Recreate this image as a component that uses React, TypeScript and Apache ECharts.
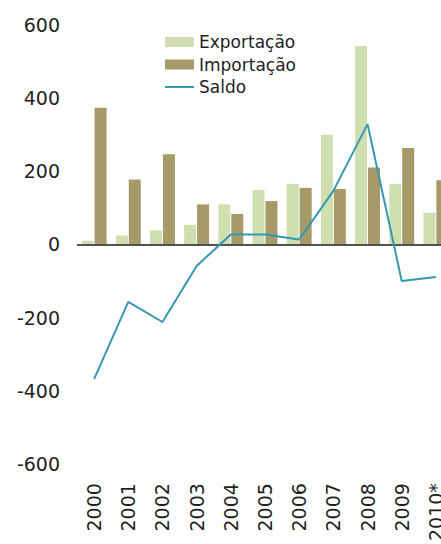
import React, { useEffect, useRef } from "react";
import * as echarts from "echarts";

const categories = ["2000", "2001", "2002", "2003", "2004", "2005", "2006", "2007", "2008", "2009", "2010*"];
const exportacao = [10, 24, 38, 53, 109, 148, 165, 299, 541, 165, 86];
const importacao = [373, 177, 246, 109, 83, 118, 154, 151, 210, 263, 175];
const saldo = [-368, -157, -212, -59, 27, 27, 13, 146, 328, -100, -89];
const yTicks = [-600, -400, -200, 0, 200, 400, 600];

const FONT = "DejaVu Sans";

export default function App() {
  const ref = useRef<HTMLDivElement>(null);
  useEffect(() => {
    if (!ref.current) return;
    const chart = echarts.init(ref.current, undefined, { renderer: "svg" });
    chart.setOption({
      animation: false,
      backgroundColor: "#ffffff",
      grid: { left: 77, width: 376, top: 24.5, bottom: 77, containLabel: false },
      legend: {
        orient: "vertical",
        left: 159,
        top: 27,
        itemWidth: 29,
        itemHeight: 10,
        itemGap: 2.5,
        textStyle: { fontFamily: FONT, fontSize: 17, color: "#222", lineHeight: 20 },
        data: [
          { name: "Exportação", icon: "rect" },
          { name: "Importação", icon: "rect" },
          { name: "Saldo", itemStyle: { opacity: 0 } },
        ],
      },
      xAxis: {
        type: "category",
        data: categories,
        axisLine: { show: false, onZero: false },
        axisTick: { show: false },
        axisLabel: {
          rotate: 90,
          interval: 0,
          margin: 19,
          fontFamily: FONT,
          fontSize: 19,
          color: "#222",
        },
      },
      yAxis: {
        type: "value",
        min: yTicks[0],
        max: yTicks[yTicks.length - 1],
        interval: 200,
        axisLine: { show: false },
        axisTick: { show: false },
        splitLine: { show: false },
        axisLabel: {
          margin: 17,
          fontFamily: FONT,
          fontSize: 19,
          color: "#222",
        },
      },
      series: [
        {
          name: "Exportação",
          type: "bar",
          data: exportacao,
          barWidth: 12,
          barGap: "8%",
          itemStyle: { color: "#cfdfb0" },
          markLine: {
            silent: true,
            symbol: "none",
            label: { show: false },
            lineStyle: { color: "#1a1a1a", width: 1.5, type: "solid" },
            data: [{ yAxis: 0 }],
          },
        },
        {
          name: "Importação",
          type: "bar",
          data: importacao,
          barWidth: 12,
          itemStyle: { color: "#a59a68" },
        },
        {
          name: "Saldo",
          type: "line",
          data: saldo,
          symbol: "none",
          lineStyle: { color: "#3598b0", width: 2 },
          itemStyle: { color: "#3598b0" },
          z: 5,
        },
      ],
    });
    return () => chart.dispose();
  }, []);
  return (
    <div
      style={{ position: "fixed", left: 0, top: 0, width: 441, height: 544, overflow: "hidden", background: "#fff" }}
    >
      <div ref={ref} style={{ width: 470, height: 544 }} />
    </div>
  );
}
